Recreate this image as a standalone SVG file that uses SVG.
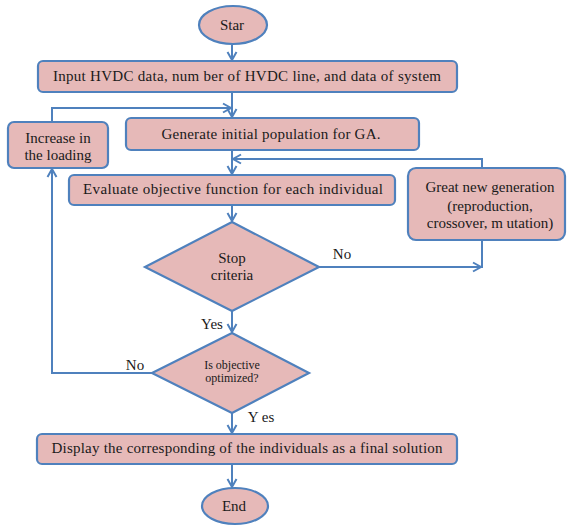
<svg xmlns="http://www.w3.org/2000/svg" width="568" height="526" viewBox="0 0 568 526" font-family="'Liberation Serif', 'DejaVu Serif', serif">
<defs>
<style>
.n{fill:#E6B9B8;stroke:#4F81BD;stroke-width:2.2}
.c{fill:none;stroke:#4F81BD;stroke-width:2}
text{font-family:'Liberation Serif','DejaVu Serif',serif;font-size:15px;fill:#1a1a1a;text-anchor:middle;dominant-baseline:central}
.s{font-size:12px}
</style>
<marker id="a" markerUnits="userSpaceOnUse" markerWidth="12" markerHeight="12" refX="9" refY="6" orient="auto">
<path d="M1,1.5 L9,6 L1,10.5" fill="none" stroke="#4F81BD" stroke-width="2"/>
</marker>
</defs>
<rect width="568" height="526" fill="#fff"/>
<g id="connectors">
<path class="c" d="M232,45 V60" marker-end="url(#a)"/>
<path class="c" d="M232,92 V117" marker-end="url(#a)"/>
<path class="c" d="M52,122 V108 H231" marker-end="url(#a)"/>
<path class="c" d="M232,150 V174" marker-end="url(#a)"/>
<path class="c" d="M482,168 V159 H233" marker-end="url(#a)"/>
<path class="c" d="M232,205 V221" marker-end="url(#a)"/>
<path class="c" d="M319,267 H481" marker-end="url(#a)"/>
<path class="c" d="M482,240 V268"/>
<path class="c" d="M232,311 V332" marker-end="url(#a)"/>
<path class="c" d="M152,373 H52 V169" marker-end="url(#a)"/>
<path class="c" d="M232,413 V433" marker-end="url(#a)"/>
<path class="c" d="M232,464 V487" marker-end="url(#a)"/>
<text x="342" y="254">No</text>
<text x="212" y="324">Yes</text>
<text x="135" y="365">No</text>
<text x="261" y="417">Y es</text>
</g>
<g id="start">
<ellipse class="n" cx="233" cy="25" rx="34" ry="19"/>
<text x="232" y="25">Star</text>
</g>
<g id="input">
<rect class="n" x="38" y="61" width="419" height="31" rx="5"/>
<text x="247" y="76" textLength="388">Input HVDC data, num ber of HVDC line, and data of system</text>
</g>
<g id="generate">
<rect class="n" x="126" y="118" width="293" height="32" rx="5"/>
<text x="271" y="134" textLength="219">Generate initial population for GA.</text>
</g>
<g id="increase">
<rect class="n" x="8" y="122" width="100" height="46" rx="6"/>
<text x="58" y="138">Increase in</text>
<text x="58" y="155">the loading</text>
</g>
<g id="evaluate">
<rect class="n" x="69" y="175" width="326" height="30" rx="5"/>
<text x="233" y="189" textLength="300">Evaluate objective function for each individual</text>
</g>
<g id="great">
<rect class="n" x="408" y="168" width="157" height="72" rx="8"/>
<text x="490" y="187">Great new generation</text>
<text x="490" y="206">(reproduction,</text>
<text x="490" y="223">crossover, m utation)</text>
</g>
<g id="stop">
<polygon class="n" points="232,222 319,267 232,311 145,267"/>
<text x="232" y="258">Stop</text>
<text x="232" y="275">criteria</text>
</g>
<g id="optimized">
<polygon class="n" points="232,333 309,373 232,413 152,373"/>
<text class="s" x="232" y="365">Is objective</text>
<text class="s" x="232" y="378">optimized?</text>
</g>
<g id="display">
<rect class="n" x="37" y="434" width="420" height="30" rx="5"/>
<text x="247" y="448" textLength="391">Display the corresponding of the individuals as a final solution</text>
</g>
<g id="end">
<ellipse class="n" cx="235" cy="506" rx="33" ry="18"/>
<text x="234" y="506">End</text>
</g>
</svg>
